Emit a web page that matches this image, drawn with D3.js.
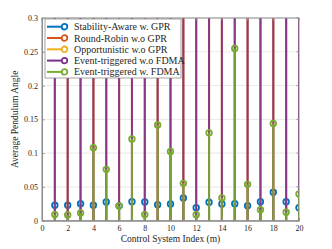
<!DOCTYPE html>
<html>
<head>
<meta charset="utf-8">
<script src="https://cdn.jsdelivr.net/npm/d3@7"></script>
<style>
  body { margin: 0; background: #fff; }
  text { font-family: "Liberation Serif", "Times New Roman", serif; fill: #262626; }
</style>
</head>
<body>
<div id="chart"></div>
<script>
// control system index 1..20
const systems = d3.range(1, 21);

// average pendulum angle per scheme
const stabilityAware = [0.0228, 0.0228, 0.0252, 0.0228, 0.0277, 0.022, 0.0281, 0.0277, 0.0237, 0.0247,
    0.0336, 0.0192, 0.0272, 0.0247, 0.0252, 0.0222, 0.0281, 0.042, 0.028, 0.0192];
const roundRobin = [0.36, 0.38, 0.37, 0.39, 0.36, 0.38, 0.37, 0.36, 0.39, 0.38,
    0.37, 0.36, 0.38, 0.39, 0.37, 0.36, 0.38, 0.37, 0.39, 0.36];
const opportunistic = [0.34, 0.35, 0.33, 0.34, 0.35, 0.33, 0.34, 0.35, 0.33, 0.34,
    0.35, 0.33, 0.34, 0.35, 0.33, 0.34, 0.35, 0.33, 0.34, 0.35];
const eventNoFdma = [0.42, 0.45, 0.41, 0.44, 0.43, 0.46, 0.42, 0.44, 0.41, 0.45,
    0.43, 0.42, 0.46, 0.44, 0.41, 0.43, 0.45, 0.42, 0.44, 0.43];
const eventFdma = [0.009, 0.0085, 0.0114, 0.108, 0.076, 0.0217, 0.121, 0.009, 0.1416, 0.1026,
    0.0553, 0.0089, 0.130, 0.0336, 0.255, 0.0538, 0.0163, 0.144, 0.0124, 0.0395];

const seriesNames = ["Stability-Aware w. GPR", "Round-Robin w.o GPR", "Opportunistic w.o GPR",
    "Event-triggered w.o FDMA", "Event-triggered w. FDMA"];
const seriesColors = ["#0072BD", "#D95319", "#EDB120", "#7E2F8E", "#77AC30"];
const seriesOpacity = [0.85, 0.8, 0.8, 0.92, 0.9];
const seriesValues = [stabilityAware, roundRobin, opportunistic, eventNoFdma, eventFdma];

const xTicks = d3.range(0, 21, 2);
const yTicks = [0, 0.05, 0.1, 0.15, 0.2, 0.25, 0.3];

const width = 332, height = 249;
const margin = { top: 18, right: 33, bottom: 28.3, left: 42 };

const svg = d3.select("#chart").append("svg")
    .attr("width", width)
    .attr("height", height);

const x = d3.scaleLinear().domain([0, 20]).range([margin.left, width - margin.right]);
const y = d3.scaleLinear().domain([0, 0.3]).range([height - margin.bottom, margin.top]);

svg.append("clipPath").attr("id", "plot-clip")
    .append("rect")
    .attr("x", margin.left).attr("y", margin.top)
    .attr("width", x(20) - x(0)).attr("height", y(0) - y(0.3));

// horizontal grid
svg.append("g")
    .selectAll("line")
    .data(yTicks)
    .join("line")
    .attr("x1", x(0)).attr("x2", x(20))
    .attr("y1", d => y(d)).attr("y2", d => y(d))
    .attr("stroke", "#e3e3e3")
    .attr("stroke-width", 0.8);

// stems
const plot = svg.append("g").attr("clip-path", "url(#plot-clip)");

seriesValues.forEach((vals, i) => {
    const g = plot.append("g");
    g.selectAll("line")
        .data(vals)
        .join("line")
        .attr("x1", (d, j) => x(systems[j]))
        .attr("x2", (d, j) => x(systems[j]))
        .attr("y1", y(0))
        .attr("y2", d => y(d))
        .attr("stroke", seriesColors[i])
        .attr("stroke-width", 2)
        .attr("stroke-opacity", seriesOpacity[i]);
    g.selectAll("circle")
        .data(vals)
        .join("circle")
        .attr("cx", (d, j) => x(systems[j]))
        .attr("cy", d => y(d))
        .attr("r", 2.8)
        .attr("fill", "none")
        .attr("stroke", seriesColors[i])
        .attr("stroke-width", 1.8);
});

// axes box
const axisColor = "#8c8c8c";
svg.append("rect")
    .attr("x", x(0)).attr("y", y(0.3))
    .attr("width", x(20) - x(0)).attr("height", y(0) - y(0.3))
    .attr("fill", "none")
    .attr("stroke", axisColor)
    .attr("stroke-width", 1);

const xAxis = d3.axisBottom(x).tickValues(xTicks).tickSizeInner(-2.5).tickSizeOuter(0).tickPadding(5);
const yAxis = d3.axisLeft(y).tickValues(yTicks).tickSizeInner(-2.5).tickSizeOuter(0).tickPadding(4)
    .tickFormat(d => d3.format("")(d));

const gx = svg.append("g").attr("transform", `translate(0,${y(0)})`).call(xAxis);
const gy = svg.append("g").attr("transform", `translate(${x(0)},0)`).call(yAxis);
[gx, gy].forEach(g => {
    g.select(".domain").attr("stroke", axisColor);
    g.selectAll(".tick line").attr("stroke", axisColor);
    g.selectAll(".tick text").attr("font-size", 8).attr("font-family", "Liberation Serif").attr("fill", "#3a3a3a");
});

// right & top ticks
svg.append("g").selectAll("line").data(yTicks).join("line")
    .attr("x1", x(20)).attr("x2", x(20) - 2.5)
    .attr("y1", d => y(d)).attr("y2", d => y(d))
    .attr("stroke", axisColor);
svg.append("g").selectAll("line").data(xTicks).join("line")
    .attr("x1", d => x(d)).attr("x2", d => x(d))
    .attr("y1", y(0.3)).attr("y2", y(0.3) + 2.5)
    .attr("stroke", axisColor);

// axis labels
svg.append("text")
    .attr("x", (x(0) + x(20)) / 2)
    .attr("y", 242)
    .attr("text-anchor", "middle")
    .attr("font-size", 9.5)
    .text("Control System Index (m)");

svg.append("text")
    .attr("transform", `translate(18,${(y(0) + y(0.3)) / 2}) rotate(-90)`)
    .attr("text-anchor", "middle")
    .attr("font-size", 9.5)
    .text("Average Pendulum Angle");

// legend
const legend = svg.append("g").attr("transform", "translate(45,19)");
legend.append("rect")
    .attr("width", 136).attr("height", 59)
    .attr("fill", "#fff")
    .attr("stroke", axisColor)
    .attr("stroke-width", 0.8);

const items = legend.selectAll("g.item")
    .data(seriesNames)
    .join("g")
    .attr("class", "item")
    .attr("transform", (d, i) => `translate(0,${7.7 + i * 11.3})`);
items.append("line")
    .attr("x1", 2).attr("x2", 23)
    .attr("stroke", (d, i) => seriesColors[i])
    .attr("stroke-width", 2);
items.append("circle")
    .attr("cx", 19.5).attr("r", 2.8)
    .attr("fill", "#fff")
    .attr("stroke", (d, i) => seriesColors[i])
    .attr("stroke-width", 1.8);
items.append("text")
    .attr("x", 29).attr("dy", "0.35em")
    .attr("font-size", 10)
    .attr("fill", "#262626")
    .text(d => d);
</script>
</body>
</html>
